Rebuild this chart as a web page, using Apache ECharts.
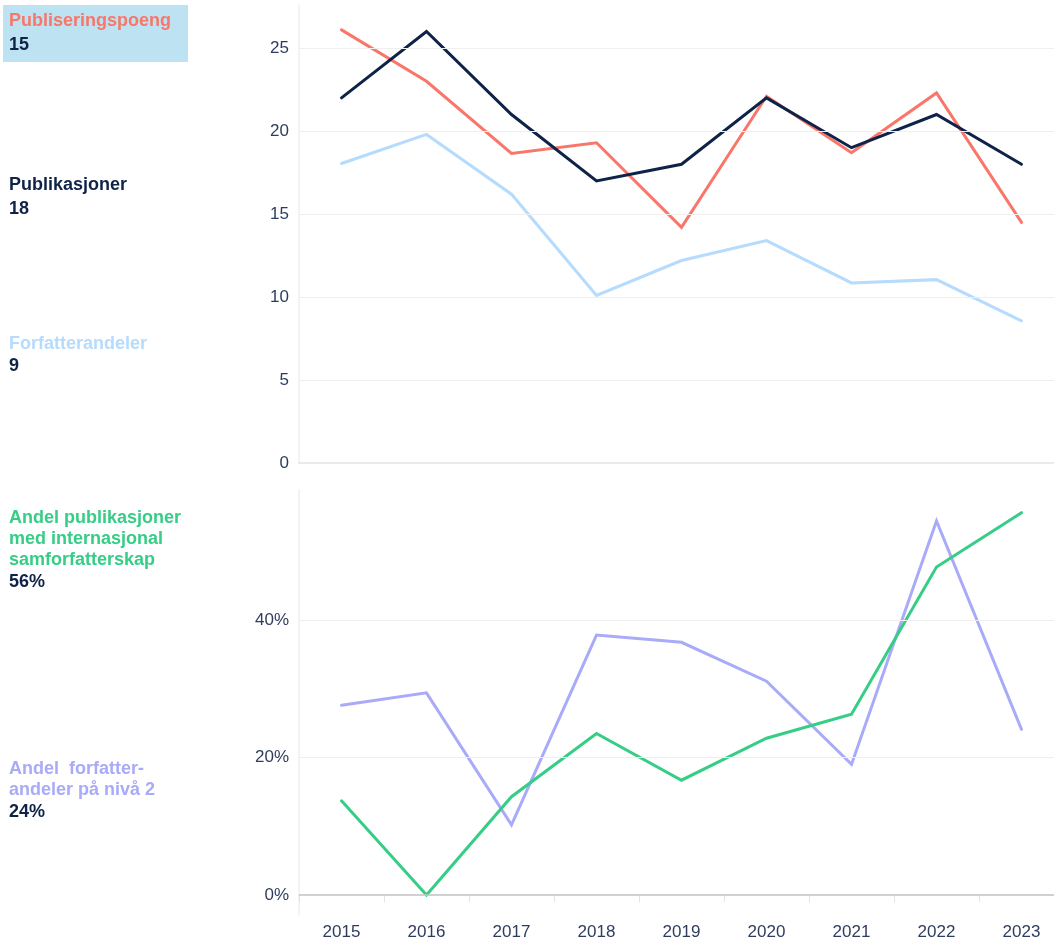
<!DOCTYPE html>
<html>
<head>
<meta charset="utf-8">
<style>
html,body{margin:0;padding:0;background:#fff;overflow:hidden;width:1054px;height:942px;}
#chart{width:1064px;height:942px;}
</style>
<script src="https://cdn.jsdelivr.net/npm/echarts@6/dist/echarts.min.js"></script>
</head>
<body>
<div id="chart"></div>
<script>
const years = ['2015','2016','2017','2018','2019','2020','2021','2022','2023'];
const publikasjoner = [22, 26, 21, 17, 18, 22, 19, 21, 18];
const publiseringspoeng = [26.1, 23.0, 18.65, 19.3, 14.2, 22.1, 18.7, 22.3, 14.5];
const forfatterandeler = [18.05, 19.8, 16.2, 10.1, 12.2, 13.4, 10.85, 11.05, 8.57];
const internasjonal = [13.7, 0, 14.3, 23.5, 16.7, 22.8, 26.3, 47.7, 55.6];
const nivaa2 = [27.6, 29.4, 10.2, 37.8, 36.75, 31.1, 19.0, 54.4, 24.1];
const topTicks = [0, 5, 10, 15, 20, 25];
const bottomTicks = [0, 20, 40];
const labelNames = ['Publiseringspoeng', 'Publikasjoner', 'Forfatterandeler',
  'Andel publikasjoner\nmed internasjonal\nsamforfatterskap', 'Andel  forfatter-\nandeler på nivå 2'];
const labelValues = ['15', '18', '9', '56%', '24%'];

const FONT = '"Liberation Sans", Arial, sans-serif';
const C = {
  navy: '#0e2347', salmon: '#f8766a', lightblue: '#b5dbfd',
  green: '#36cd86', purple: '#a9aaf8', tick: '#2e3c5e', grid: '#efefef', axis: '#e3e3e3'
};

const chart = echarts.init(document.getElementById('chart'), null, {renderer: 'canvas'});

function gridLines(vals, zeroColor) {
  return {
    silent: true, symbol: 'none', label: {show: false},
    data: vals.map(v => ({yAxis: v, lineStyle: {color: (v === 0 && zeroColor) ? zeroColor : C.grid, width: v === 0 && zeroColor ? 1.5 : 1.2, type: 'solid'}}))
  };
}

function lineSeries(name, data, color, xi, extra) {
  return Object.assign({
    name, type: 'line', data, xAxisIndex: xi, yAxisIndex: xi,
    symbol: 'none', smooth: false,
    lineStyle: {color, width: 3, cap: 'round', join: 'miter'},
    itemStyle: {color}, z: 3, animation: false
  }, extra || {});
}

const textStyleBase = {fontFamily: FONT, fontWeight: 'bold', fontSize: 18};

const graphics = [
  {type: 'rect', shape: {x: 3, y: 5, width: 185, height: 57}, style: {fill: '#bde3f2'}, z: 0},
];
const labelPos = [
  {y: 11, gap: 23, color: C.salmon},
  {y: 175, gap: 23, color: C.navy},
  {y: 334, gap: 21, color: C.lightblue},
  {y: 508, gap: 21, color: C.green},
  {y: 759, gap: 21, color: C.purple}
];
labelNames.forEach((n, i) => {
  const lines = n.split('\n').length;
  graphics.push({type: 'text', x: 9, y: labelPos[i].y, style: Object.assign({}, textStyleBase, {text: n, fill: labelPos[i].color, lineHeight: 21, textVerticalAlign: 'top'}), z: 2});
  graphics.push({type: 'text', x: 9, y: labelPos[i].y + (lines - 1) * 21 + labelPos[i].gap + 1, style: Object.assign({}, textStyleBase, {text: labelValues[i], fill: C.navy, lineHeight: 21, textVerticalAlign: 'top'}), z: 2});
});

const option = {
  animation: false,
  backgroundColor: '#fff',
  grid: [
    {left: 299, top: 5, width: 765, height: 458},
    {left: 299, top: 490, width: 765, height: 425}
  ],
  xAxis: [
    {type: 'category', gridIndex: 0, data: years, boundaryGap: true,
      axisLine: {show: true, lineStyle: {color: C.axis, width: 1.5}},
      axisTick: {show: false}, axisLabel: {show: false}, splitLine: {show: false}},
    {type: 'category', gridIndex: 1, data: years, boundaryGap: true,
      axisLine: {show: true, lineStyle: {color: C.axis, width: 1.5}},
      axisTick: {show: true, length: 7, lineStyle: {color: C.axis}},
      axisLabel: {show: true, color: C.tick, fontFamily: FONT, fontSize: 17, margin: 9},
      splitLine: {show: false}}
  ],
  yAxis: [
    {type: 'value', gridIndex: 0, min: 0, max: 27.6,
      axisLine: {show: true, lineStyle: {color: C.grid, width: 1.5}},
      axisTick: {show: false},
      splitLine: {show: false},
      axisLabel: {customValues: topTicks, color: C.tick, fontFamily: FONT, fontSize: 17, margin: 10}},
    {type: 'value', gridIndex: 1, min: -2.9, max: 58.9,
      axisLine: {show: true, lineStyle: {color: C.grid, width: 1.5}},
      axisTick: {show: false},
      splitLine: {show: false},
      axisLabel: {customValues: bottomTicks, color: C.tick, fontFamily: FONT, fontSize: 17, margin: 10,
        formatter: v => v + '%'}}
  ],
  series: [
    lineSeries('Forfatterandeler', forfatterandeler, C.lightblue, 0, {markLine: gridLines(topTicks.slice(1))}),
    lineSeries('Publiseringspoeng', publiseringspoeng, C.salmon, 0),
    lineSeries('Publikasjoner', publikasjoner, C.navy, 0),
    lineSeries('Andel forfatterandeler på nivå 2', nivaa2, C.purple, 1, {markLine: gridLines(bottomTicks, '#c9c9c9')}),
    lineSeries('Andel publikasjoner med internasjonal samforfatterskap', internasjonal, C.green, 1)
  ],
  graphic: graphics
};
chart.setOption(option);
</script>
</body>
</html>
